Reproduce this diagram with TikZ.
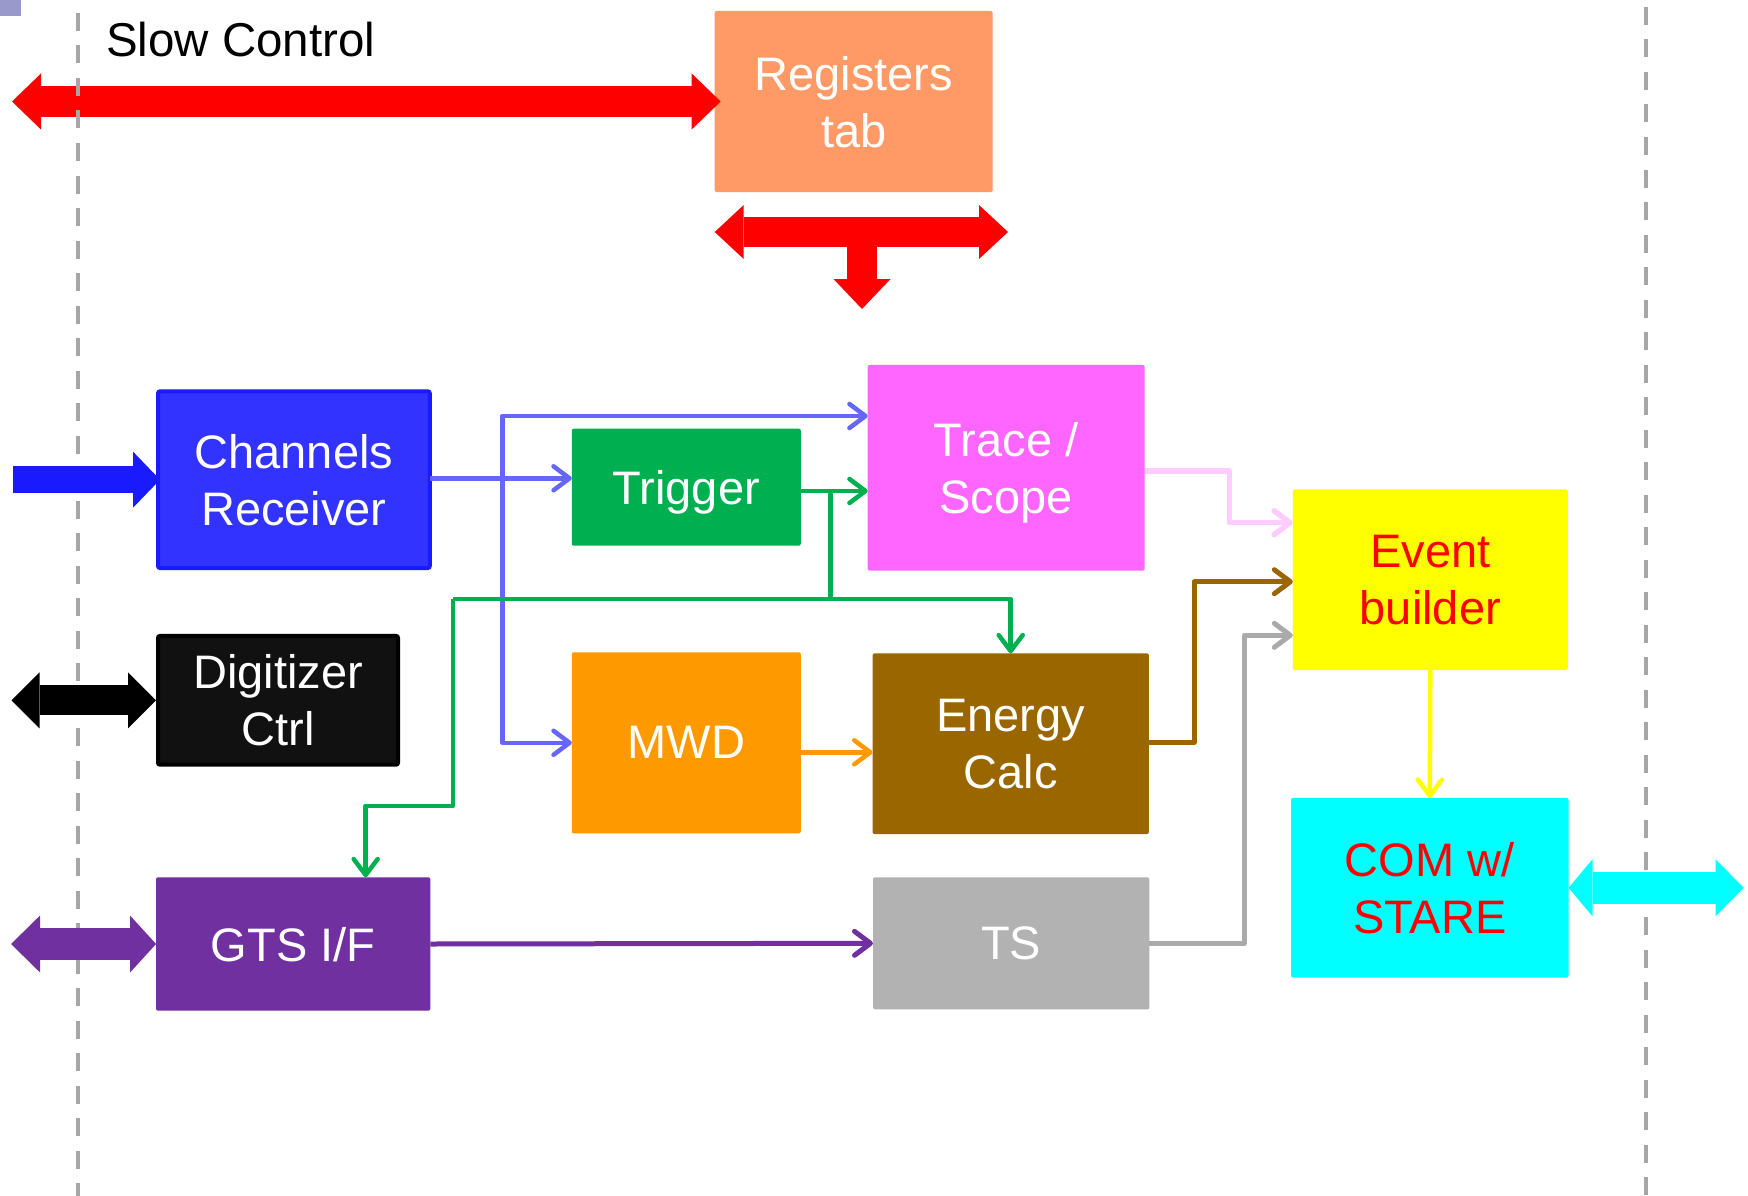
\documentclass[tikz,border=0pt]{standalone}
\usepackage{fontspec}
\setmainfont{Liberation Sans}
\usetikzlibrary{arrows.meta,calc}
\definecolor{regc}{HTML}{FF9966}
\definecolor{crc}{HTML}{3333FF}
\definecolor{crb}{HTML}{1A1AFF}
\definecolor{trigc}{HTML}{00B050}
\definecolor{digc}{HTML}{111111}
\definecolor{mwdc}{HTML}{FF9900}
\definecolor{trc}{HTML}{FF66FF}
\definecolor{enc}{HTML}{996600}
\definecolor{gtsc}{HTML}{7030A0}
\definecolor{tsc}{HTML}{B2B2B2}
\definecolor{ebc}{HTML}{FFFF00}
\definecolor{comc}{HTML}{00FFFF}
\definecolor{rd}{HTML}{FF0000}
\definecolor{lblue}{HTML}{6666FF}
\definecolor{lpink}{HTML}{FFCCFF}
\definecolor{dgray}{HTML}{A6A6A6}
\definecolor{gconn}{HTML}{AAAAAA}
\definecolor{sqc}{HTML}{9999CC}
\begin{document}
\begin{tikzpicture}[x=1pt,y=-1pt,
  blk/.style={rectangle, inner sep=0pt, outer sep=0pt, align=center, text=white,
    font=\fontsize{47}{57}\selectfont, text depth=0pt, rounded corners=2pt},
  conn/.style={line width=4.5pt, line join=round,
    -{Straight Barb[length=16pt,width=24pt,line cap=round,line join=round]}},
  cline/.style={line width=4.5pt, line join=round},
  dashline/.style={draw=dgray, line width=3.5pt, dash pattern=on 18pt off 14.5pt},
  bigtip/.tip={Triangle[length=29pt,width=56pt,line width=0pt]},
]
\useasboundingbox (0,0) rectangle (1748,1196);
\fill[white] (0,0) rectangle (1748,1196);
\fill[sqc] (0,0) rectangle (20.8,15.7);

% boxes
\node[blk, fill=regc, minimum width=278pt, minimum height=181pt] (reg) at (853.7,101.5) {Registers\\tab};
\node[blk, fill=crc, draw=crb, line width=4pt, minimum width=271.7pt, minimum height=176.7pt] (cr) at (293.9,479.7) {Channels\\Receiver};
\node[blk, fill=trigc, minimum width=229pt, minimum height=117pt] (trig) at (686.3,487.2) {Trigger};
\node[blk, fill=digc, draw=black, line width=4pt, minimum width=240pt, minimum height=128.7pt] (dig) at (278,700.3) {Digitizer\\Ctrl};
\node[blk, fill=mwdc, minimum width=229pt, minimum height=181pt] (mwd) at (686.3,742.8) {MWD};
\node[blk, fill=trc, minimum width=277pt, minimum height=205.7pt] (trace) at (1006.2,467.8) {Trace /\\Scope};
\node[blk, fill=enc, minimum width=276.3pt, minimum height=180.7pt] (energy) at (1010.7,743.7) {Energy\\Calc};
\node[blk, fill=gtsc, minimum width=274.3pt, minimum height=133.4pt] (gts) at (293.2,944) {GTS I/F};
\node[blk, fill=tsc, minimum width=276.4pt, minimum height=132pt] (ts) at (1011.2,943.3) {TS};
\node[blk, fill=ebc, text=rd, minimum width=275pt, minimum height=180.7pt] (eb) at (1430.3,579.7) {Event\\builder};
\node[blk, fill=comc, text=rd, minimum width=277.5pt, minimum height=179.7pt] (com) at (1429.8,887.8) {COM w/\\STARE};

\node[anchor=base west, inner sep=0pt, font=\fontsize{47.5}{57}\selectfont] (sc) at (106,56.7) {Slow Control};

% slow control arrow
\coordinate (scl) at (12,101.5);
\draw[rd, line width=31pt, {bigtip}-{bigtip}] (scl) -- ($(reg.west)+(6,0)$);

% dashed separators
\draw[dashline] (78,13) -- (78,1196);
\draw[dashline] (1645.8,7) -- (1645.8,1196);

% T arrow under registers
\coordinate (tl) at (714.7,232);
\coordinate (tr) at (1008,232);
\coordinate (tm) at (862,232);
\coordinate (tb) at (862,309);
\draw[rd, line width=30pt, {Triangle[length=29pt,width=54pt,line width=0pt]}-{Triangle[length=29pt,width=54pt,line width=0pt]}] (tl) -- (tr);
\draw[rd, line width=30pt, -{Triangle[length=30pt,width=57pt,line width=0pt]}] (tm) -- (tb);

% external block arrows
\draw[crb, line width=27pt, -{Triangle[length=27pt,width=56pt,line width=0pt]}] ($(cr.west)-(145,0)$) -- ($(cr.west)+(2,0)$);
\draw[black, line width=30pt, {Triangle[length=28pt,width=56pt,line width=0pt]}-{Triangle[length=28pt,width=56pt,line width=0pt]}] ($(dig.west)-(146.5,0)$) -- ($(dig.west)-(2,0)$);
\draw[gtsc, line width=32pt, {Triangle[length=29pt,width=57pt,line width=0pt]}-{Triangle[length=26pt,width=57pt,line width=0pt]}] ($(gts.west)-(145,0)$) -- (gts.west);
\draw[comc, line width=32pt, {Triangle[length=24pt,width=57pt,line width=0pt]}-{Triangle[length=28pt,width=57pt,line width=0pt]}] (com.east) -- ($(com.east)+(175,0)$);

% blue connectors
\coordinate (bj) at (502.3,478.3);
\coordinate (bt) at (502.3,416);
\draw[conn, lblue] (bj -| cr.east) -- (bj -| trig.west);
\draw[conn, lblue] (bj) -- (bt) -- (bt -| trace.west);
\draw[conn, lblue] (bj) |- (mwd.west);

% green connectors
\coordinate (g1) at (830.7,491);
\coordinate (g2) at (830.7,599);
\coordinate (g3) at (453,599);
\coordinate (g4) at (453,806);
\coordinate (g5) at (365.7,806);
\draw[conn, trigc] (g1 -| trig.east) -- (g1 -| trace.west);
\draw[cline, trigc] (g1) -- (g2);
\draw[conn, trigc] (g3) -- (g3 -| energy.north) -- (energy.north);
\draw[conn, trigc] (g3) -- (g4) -- (g5) -- (g5 |- gts.north);

% orange
\coordinate (oc) at (700,752.3);
\draw[conn, mwdc] (oc -| mwd.east) -- (oc -| energy.west);

% pink
\coordinate (pk) at (1229.3,471);
\coordinate (pk2) at (1229.3,522.7);
\draw[conn, lpink, line width=5.5pt] (pk -| trace.east) -- (pk) -- (pk2) -- (pk2 -| eb.west);

% brown
\coordinate (br) at (1194.2,742.3);
\coordinate (br2) at (1194.2,581.7);
\draw[conn, enc, line width=5pt] (br -| energy.east) -- (br) -- (br2) -- (br2 -| eb.west);

% gray
\coordinate (gr) at (1244.4,943.3);
\coordinate (gr2) at (1244.4,635.3);
\draw[conn, gconn, line width=5pt] (gr -| ts.east) -- (gr) -- (gr2) -- (gr2 -| eb.west);

% yellow
\draw[conn, ebc] (eb.south) -- (com.north);

% purple
\draw[conn, gtsc, line width=5pt] (gts.east) -- (ts.west);
\end{tikzpicture}
\end{document}
